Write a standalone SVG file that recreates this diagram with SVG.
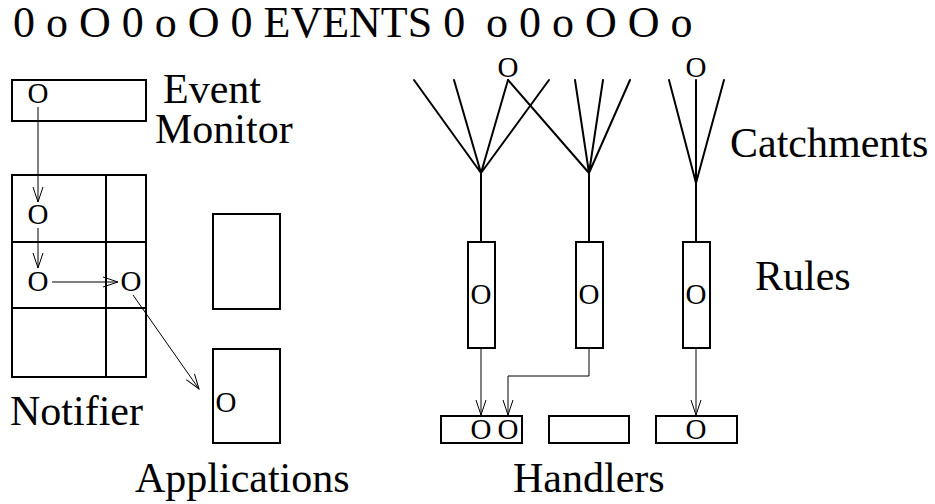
<svg xmlns="http://www.w3.org/2000/svg" width="935" height="504" viewBox="0 0 935 504">
  <style>
    text { font-family: "Liberation Serif", "DejaVu Serif", serif; fill: #000; }
    .title { font-size: 44px; }
    .label { font-size: 42px; }
    .tok { font-size: 29px; text-anchor: middle; }
    .box { fill: #fff; stroke: #000; stroke-width: 2; }
    .fan { fill: none; stroke: #000; stroke-width: 2; stroke-linecap: round; }
    .flow { fill: none; stroke: #000; stroke-width: 1; marker-end: url(#vee); }
  </style>
  <defs>
    <marker id="vee" viewBox="-16 -6 17 12" markerWidth="17" markerHeight="12" refX="0" refY="0" orient="auto" markerUnits="userSpaceOnUse">
      <path d="M-15,-5 L0,0 L-15,5" fill="none" stroke="#000" stroke-width="1"/>
    </marker>
  </defs>

  <rect width="935" height="504" fill="#fff"/>

  <!-- event stream -->
  <text id="events" class="title" x="13" y="37">0 o O 0 o O 0 EVENTS 0<tspan x="486">o 0 o O O o</tspan></text>

  <!-- event monitor -->
  <g id="event-monitor">
    <rect class="box" x="12" y="80" width="134" height="41"/>
    <text class="tok" x="38" y="103">O</text>
    <text class="label" x="163" y="103">Event</text>
    <text class="label" x="155" y="143">Monitor</text>
  </g>

  <!-- notifier grid -->
  <g id="notifier">
    <rect class="box" x="12" y="175" width="134" height="202"/>
    <path d="M106,175 V377 M12,242 H146 M12,308 H146" fill="none" stroke="#000" stroke-width="2"/>
    <text class="tok" x="38" y="224">O</text>
    <text class="tok" x="38" y="291">O</text>
    <text class="tok" x="131" y="291">O</text>
    <text class="label" x="10" y="425">Notifier</text>
  </g>

  <!-- applications -->
  <g id="applications">
    <rect class="box" x="213" y="214" width="67" height="95"/>
    <rect class="box" x="213" y="349" width="67" height="94"/>
    <text class="tok" x="226" y="412">O</text>
    <text class="label" x="135" y="492">Applications</text>
  </g>

  <!-- catchments -->
  <g id="catchments">
    <text class="tok" x="508" y="77">O</text>
    <text class="tok" x="696" y="77">O</text>
    <path class="fan" d="M481,173 L414,80 M481,173 L454,80 M481,173 L508,80 M481,173 L549,80 M481,173 V242"/>
    <path class="fan" d="M508,80 L589,173 M589,173 L575,80 M589,173 L603,80 M589,173 L630,80 M589,173 V242"/>
    <path class="fan" d="M696,183 L669,80 M696,183 L724,80 M696,80 V242"/>
    <text class="label" x="730" y="157">Catchments</text>
  </g>

  <!-- rules -->
  <g id="rules">
    <rect class="box" x="468" y="242" width="27" height="106"/>
    <rect class="box" x="576" y="242" width="27" height="106"/>
    <rect class="box" x="683" y="242" width="27" height="106"/>
    <text class="tok" x="481" y="304">O</text>
    <text class="tok" x="589" y="304">O</text>
    <text class="tok" x="696" y="304">O</text>
    <text class="label" x="755" y="290">Rules</text>
  </g>

  <!-- handlers -->
  <g id="handlers">
    <rect class="box" x="441" y="416" width="81" height="27"/>
    <rect class="box" x="549" y="416" width="80" height="27"/>
    <rect class="box" x="656" y="416" width="81" height="27"/>
    <text class="tok" x="481" y="439">O</text>
    <text class="tok" x="508" y="439">O</text>
    <text class="tok" x="696" y="439">O</text>
    <text class="label" x="513" y="492">Handlers</text>
  </g>

  <!-- connectors -->
  <g id="connectors">
    <path class="flow" d="M38,107 V202"/>
    <path class="flow" d="M38,228 V268"/>
    <path class="flow" d="M52,282 H118"/>
    <path class="flow" d="M133,295 L199,389"/>
    <path class="flow" d="M481,348 V415"/>
    <path class="flow" d="M589,348 V376 H508 V415"/>
    <path class="flow" d="M696,348 V415"/>
  </g>
</svg>
